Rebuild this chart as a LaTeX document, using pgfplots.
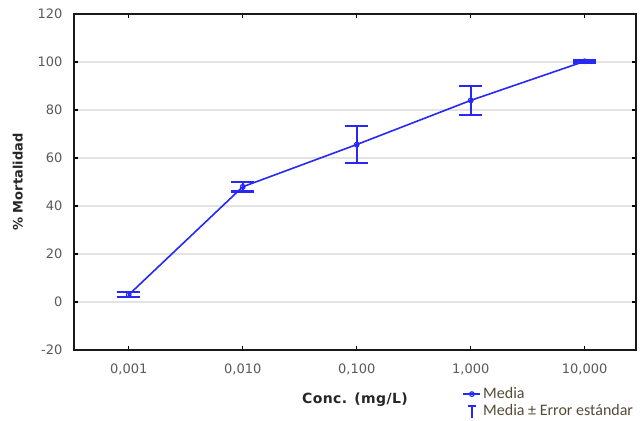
\documentclass[border=0pt]{standalone}
\usepackage{pgfplots}
\pgfplotsset{compat=1.18}
\usepackage{fontspec}
\setmainfont{DejaVu Sans}
\newfontfamily\legfont{Carlito}
\definecolor{lineblue}{RGB}{40,40,245}
\definecolor{ticktxt}{RGB}{90,90,90}
\definecolor{legtxt}{RGB}{85,75,55}

\begin{document}
\begin{tikzpicture}
\useasboundingbox (-74pt,-70pt) rectangle (568pt,350pt);
\begin{axis}[
    at={(0pt,0pt)}, anchor=south west,
    scale only axis,
    width=562pt, height=336pt,
    xmin=-0.48, xmax=4.45,
    ymin=-20, ymax=120,
    xtick={0,1,2,3,4},
    xticklabels={{0,001},{0,010},{0,100},{1,000},{10,000}},
    ytick={-20,0,20,40,60,80,100,120},
    ymajorgrids=true,
    grid style={line width=1.5pt, gray!22},
    axis line style={line width=1.8pt, black!90},
    tick style={line width=1.4pt, black},
    major tick length=4pt,
    tick align=inside,
    /pgf/number format/assume math mode=true,
    ticklabel style={font=\fontsize{13}{15}\selectfont, text=ticktxt},
    xticklabel style={yshift=-10pt},
    yticklabel style={xshift=-8pt},
    xlabel={\bfseries\addfontfeature{LetterSpace=3}Conc. (mg/L)},
    ylabel={\bfseries \% Mortalidad},
    label style={font=\fontsize{13}{15}\selectfont, text=black!85},
    xlabel style={at={(axis description cs:0.5,-0.149)}, anchor=center,
        font=\fontsize{14}{16}\selectfont},
    ylabel style={at={(axis description cs:-0.1,0.5)}, anchor=center},
    legend style={at={(0.691,-0.106)}, anchor=north west, draw=none, fill=none,
        font=\legfont\fontsize{16}{18}\selectfont, text=legtxt, row sep=0pt,
        inner sep=0pt, cells={anchor=west}},
    legend cell align=left,
]
\addplot[lineblue, line width=1.6pt, mark=o, mark size=2.3pt,
    mark options={line width=1.2pt},
    error bars/.cd, y dir=both, y explicit,
    error bar style={line width=2pt, lineblue},
    error mark options={rotate=90, mark size=11.5pt, line width=2.2pt, lineblue}]
    coordinates {
    (0, 3.0) +- (0, 1.0)
    (1, 48.0) +- (0, 2.0)
    (2, 65.6) +- (0, 7.7)
    (3, 84.0) +- (0, 6.0)
    (4, 100.3) +- (0, 0.5)
};
\addlegendentry{Media}
\addlegendimage{legend image code/.code={
    \draw[lineblue, line width=1.6pt] (0.30cm,-0.24cm) -- (0.30cm,0.16cm);
    \draw[lineblue, line width=1.6pt] (0.16cm,0.16cm) -- (0.44cm,0.16cm);
}}
\addlegendentry{Media ± Error estándar}
\end{axis}
\end{tikzpicture}
\end{document}
